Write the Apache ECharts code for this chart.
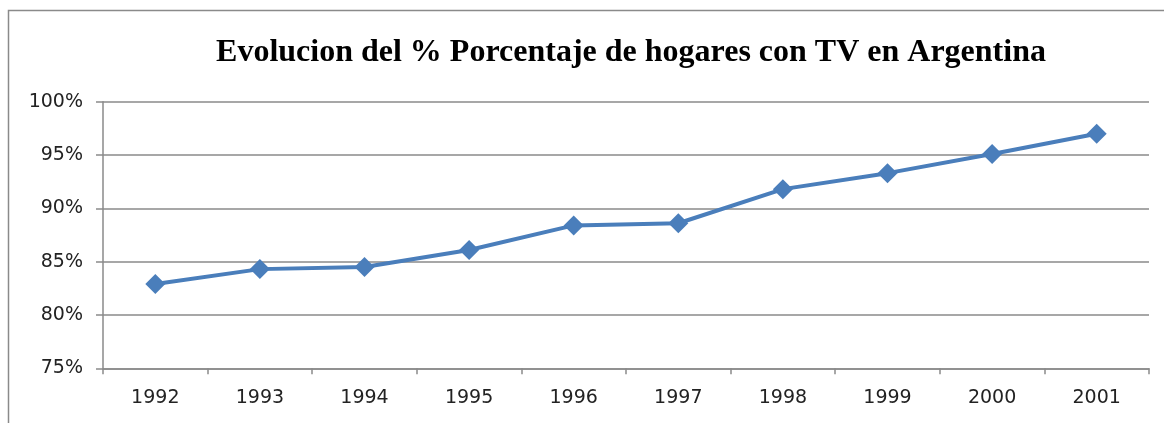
<!DOCTYPE html>
<html><head><meta charset="utf-8">
<script src="https://cdn.jsdelivr.net/npm/echarts@6/dist/echarts.min.js"></script>
<style>html,body{margin:0;padding:0;background:#fff}#c{width:1164px;height:423px}</style>
</head><body><div id="c"></div>
<script>
const titleText = 'Evolucion del % Porcentaje de hogares con TV en Argentina';
const years = ['1992','1993','1994','1995','1996','1997','1998','1999','2000','2001'];
const pctTV = [82.9, 84.3, 84.5, 86.1, 88.4, 88.6, 91.8, 93.3, 95.1, 97.0];
const yTicks = [75, 80, 85, 90, 95, 100];

const chart = echarts.init(document.getElementById('c'));
chart.setOption({
  animation: false,
  backgroundColor: '#fff',
  graphic: [{
    type: 'rect', shape: {x: 8.5, y: 10.5, width: 1170, height: 430},
    style: {fill: 'none', stroke: '#8a8a8a', lineWidth: 1.5}, silent: true
  }],
  title: {
    text: titleText, left: 626, top: 32, textAlign: 'center',
    textStyle: {fontFamily: 'Liberation Serif', fontWeight: 'bold', fontSize: 32, color: '#000'}
  },
  grid: {left: 103, right: 15, top: 101.7, bottom: 54.7, containLabel: false},
  xAxis: {
    type: 'category', data: years, boundaryGap: true,
    axisLine: {lineStyle: {color: '#8a8a8a', width: 1.5}},
    axisTick: {show: true, length: 6, lineStyle: {color: '#8a8a8a', width: 1.5}},
    axisLabel: {margin: 20, fontFamily: 'DejaVu Sans', fontSize: 19, color: '#222'},
    splitLine: {show: false}
  },
  yAxis: {
    type: 'value', min: yTicks[0], max: yTicks[yTicks.length - 1], interval: 5,
    axisLine: {show: true, lineStyle: {color: '#8a8a8a', width: 1.5}},
    axisTick: {show: true, length: 7, lineStyle: {color: '#8a8a8a', width: 1.5}},
    axisLabel: {margin: 20, fontFamily: 'DejaVu Sans', fontSize: 19, color: '#222', formatter: v => v + '%'},
    splitLine: {show: true, lineStyle: {color: '#8a8a8a', width: 1.5}}
  },
  series: [{
    type: 'line', data: pctTV,
    symbol: 'diamond', symbolSize: 20,
    lineStyle: {color: '#4a7ebb', width: 4},
    itemStyle: {color: '#4a7ebb'}
  }]
});
</script></body></html>
